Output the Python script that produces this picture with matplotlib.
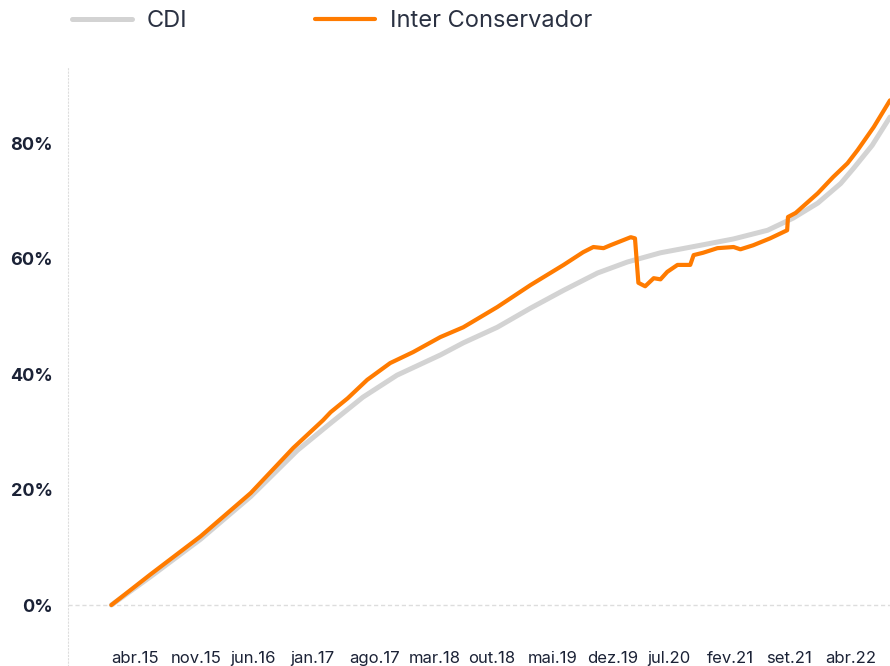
import matplotlib
matplotlib.use("Agg")
import matplotlib.pyplot as plt

plt.rcParams['font.family'] = ['Inter', 'DejaVu Sans']

# months since abr.15 / accumulated return (%)
cdi_m = [0, 4.6, 10.5, 16.4, 21.9, 25.8, 29.6, 33.6, 38.7, 41.4, 45.4, 49.3, 53.2,
         57.2, 60.7, 64.6, 69.3, 73.2, 77.2, 80.2, 83.1, 85.8, 87.3, 89.5, 91.6]
cdi_v = [0, 4.9, 11.4, 18.8, 26.8, 31.5, 36.0, 39.8, 43.3, 45.4, 48.1, 51.4, 54.5,
         57.5, 59.4, 61.0, 62.3, 63.4, 64.9, 67.0, 69.6, 73.0, 75.6, 79.6, 84.5]

inter_m = [0, 4.6, 10.5, 16.4, 21.4, 24.9, 25.8, 27.8, 30.1, 32.8, 35.5, 38.7, 41.4,
           45.4, 49.3, 53.2, 55.5, 56.7, 57.9, 58.7, 61.1, 61.6, 62.0, 62.8, 63.8,
           64.6, 65.4, 66.6, 68.1, 68.5, 69.6, 71.3, 73.2, 74.0, 75.5, 77.5, 79.5,
           79.6, 80.5, 83.1, 84.9, 86.6, 87.8, 89.7, 91.6]
inter_v = [0, 5.3, 11.9, 19.4, 27.2, 32.0, 33.4, 35.8, 39.0, 41.9, 43.8, 46.4, 48.1,
           51.6, 55.4, 58.9, 61.1, 62.0, 61.8, 62.3, 63.7, 63.5, 55.8, 55.2, 56.6,
           56.4, 57.7, 58.9, 58.9, 60.6, 61.0, 61.8, 62.0, 61.6, 62.3, 63.5, 64.9,
           67.2, 67.9, 71.3, 74.1, 76.5, 78.8, 82.8, 87.4]

tick_m = [0, 7, 14, 21, 28, 35, 42, 49, 56, 63, 70, 77, 84]
tick_lbl = ['abr.15', 'nov.15', 'jun.16', 'jan.17', 'ago.17', 'mar.18', 'out.18',
            'mai.19', 'dez.19', 'jul.20', 'fev.21', 'set.21', 'abr.22']
y_ticks = [0, 20, 40, 60, 80]

fig = plt.figure(figsize=(8.9, 6.66), dpi=100)
ax = fig.add_axes([68 / 890, 0, 1 - 68 / 890, 598 / 666])

ax.plot(cdi_m, cdi_v, color='#d3d3d3', lw=3.6, solid_capstyle='round',
        solid_joinstyle='round', label='CDI', zorder=3)
ax.plot(inter_m, inter_v, color='#ff7b00', lw=3.0, solid_capstyle='round',
        solid_joinstyle='round', label='Inter Conservador', zorder=4)

ax.axhline(0, color='#dddddd', lw=1, ls=(0, (3, 2)), zorder=1)

ax.set_xlim(-5.1, 91.6)
ax.set_ylim(-10.56, 93.0)

for s in ['top', 'right', 'bottom']:
    ax.spines[s].set_visible(False)
ax.spines['left'].set_color('#dddddd')
ax.spines['left'].set_linestyle((0, (1, 2)))
ax.spines['left'].set_linewidth(0.8)

ax.set_yticks(y_ticks)
ax.set_yticklabels([f'{v}%' for v in y_ticks], fontsize=13, fontweight='bold',
                   color='#1b2236')
ax.tick_params(axis='y', length=0, pad=11)

ax.set_xticks(tick_m)
ax.set_xticklabels(tick_lbl, fontsize=12, color='#1b2236', ha='left')
ax.tick_params(axis='x', length=0, pad=-11)

fig.legend(loc='upper left', bbox_to_anchor=(72 / 890, 1 - 10 / 666), ncol=2,
           frameon=False, fontsize=17, handlelength=2.55, handletextpad=0.62,
           columnspacing=5.4, borderpad=0, borderaxespad=0, labelcolor='#2a3142')

fig.savefig('out.png', dpi=100)
